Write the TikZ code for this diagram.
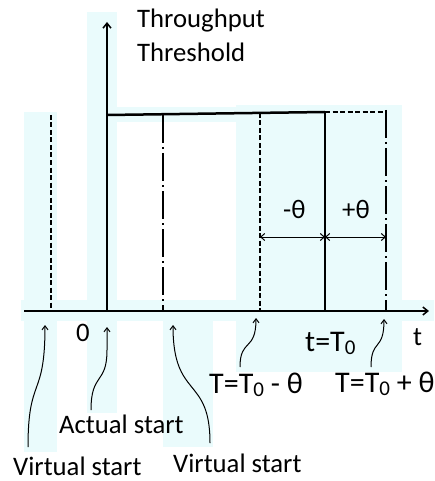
\documentclass[tikz,border=0pt]{standalone}
\usepackage{fontspec}
\setmainfont{Carlito}
\usetikzlibrary{arrows.meta}
\definecolor{bgc}{RGB}{234,251,252}
\newcommand{\zsub}{\raisebox{-3pt}{\fontsize{21}{22}\selectfont 0}}
\tikzset{
  lbl/.style={inner sep=0pt, anchor=base west, font=\fontsize{26.7}{32}\selectfont},
  tlbl/.style={inner sep=0pt, anchor=base west, font=\fontsize{30}{34}\selectfont},
  axisline/.style={line width=1.5pt},
  dashline/.style={line width=2pt, dash pattern=on 5pt off 2.5pt},
  dotdash/.style={line width=2pt, dash pattern=on 28pt off 4pt on 2pt off 4pt},
  pointer/.style={line width=1pt, -{Straight Barb[length=4pt,width=6pt]}},
  span/.style={line width=1pt, {Straight Barb[length=4pt,width=7pt]}-{Straight Barb[length=4pt,width=7pt]}}
}
\begin{document}
\begin{tikzpicture}[x=1pt,y=-1pt]
\useasboundingbox (0,0) rectangle (434,481);
% background boxes
\fill[bgc] (87,12) rectangle (117,413);
\fill[bgc] (24,112) rectangle (57,452);
\fill[bgc] (21,300) rectangle (434,321);
\fill[bgc] (117,107) rectangle (236,122);
\fill[bgc] (236,105) rectangle (402,372);
\fill[bgc] (163,321) rectangle (213,447);
% coordinates
\coordinate (o) at (107,311);
\coordinate (ytop) at (107,22);
\coordinate (xl) at (24,311);
\coordinate (xr) at (429,311);
\coordinate (th0) at (107,115);
\coordinate (thT) at (325,112);
\coordinate (thE) at (386,112);
\coordinate (v1t) at (51,115);  \coordinate (v1b) at (51,311);
\coordinate (v2t) at (163,115); \coordinate (v2b) at (163,311);
\coordinate (v3t) at (260,113); \coordinate (v3b) at (260,311);
\coordinate (v4t) at (325,112); \coordinate (v4b) at (325,311);
\coordinate (v5t) at (386,110); \coordinate (v5b) at (386,311);
\coordinate (m1) at (260,237); \coordinate (m2) at (325,237); \coordinate (m3) at (386,237);
% axes
\draw[axisline, -{Straight Barb[length=5pt,width=8pt]}] (o) -- (ytop);
\draw[axisline, -{Straight Barb[length=5pt,width=8pt]}] (xl) -- (xr);
% threshold
\draw[line width=2.5pt] (th0) -- (thT);
\draw[dashline] (thT) -- (thE);
% verticals
\draw[dashline] (v1t) -- (v1b);
\draw[dotdash] (v2t) -- (v2b);
\draw[dashline] (v3t) -- (v3b);
\draw[line width=2pt] (v4t) -- (v4b);
\draw[dotdash] (v5t) -- (v5b);
% spans
\draw[span] (m1) -- (m2);
\draw[span] (m2) -- (m3);
% labels
\node[lbl] (thr1) at (137,28) {Throughput};
\node[lbl] (thr2) at (137,62) {Threshold};
\node[lbl] (mth) at (283,218) {-θ};
\node[lbl] (pth) at (342,218) {+θ};
\node[lbl] (zero) at (76,341) {0};
\node[tlbl] (tT) at (305,351) {t=T\zsub};
\node[lbl] (tlab) at (413,345) {t};
\node[tlbl] (tm) at (209,393) {T=T\zsub{} - θ};
\node[tlbl] (tp) at (335,392) {T=T\zsub{} + θ};
\node[lbl] (act) at (59,433) {Actual start};
\node[lbl] (vs1) at (13,475) {Virtual start};
\node[lbl] (vs2) at (173,472) {Virtual start};
% pointers
\coordinate (p1s) at (28,447); \coordinate (p1e) at (45,325);
\coordinate (p2s) at (91,410); \coordinate (p2m) at (107,350); \coordinate (p2e) at (107,327);
\coordinate (p3s) at (210,443); \coordinate (p3e) at (173,325);
\coordinate (p4s) at (240,367); \coordinate (p4e) at (256,318);
\coordinate (p5s) at (371,367); \coordinate (p5e) at (384,319);
\draw[pointer] (p1s) .. controls (28,375) and (45,400) .. (p1e);
\draw[pointer] (p2s) .. controls (91,372) and (107,385) .. (p2m) -- (p2e);
\draw[pointer] (p3s) .. controls (210,375) and (173,400) .. (p3e);
\draw[pointer] (p4s) .. controls (240,338) and (256,352) .. (p4e);
\draw[pointer] (p5s) .. controls (371,338) and (384,352) .. (p5e);
\end{tikzpicture}
\end{document}
